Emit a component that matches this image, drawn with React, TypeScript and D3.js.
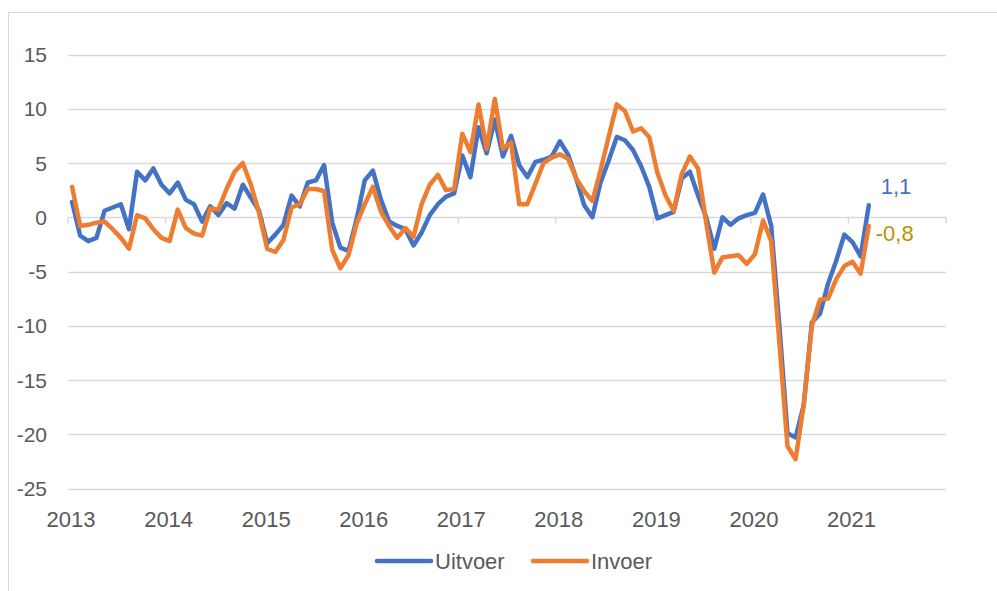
import React, { useEffect, useRef } from "react";
import * as d3 from "d3";

// monthly values, Jan 2013 .. Mar 2021
const uitvoer = [
  1.4, -1.7, -2.2, -1.9, 0.6, 0.9, 1.2, -1.1, 4.2, 3.4, 4.5, 3.0,
  2.2, 3.2, 1.6, 1.2, -0.4, 1.0, 0.2, 1.3, 0.8, 3.0, 1.8, 0.6,
  -2.4, -1.6, -0.7, 2.0, 1.0, 3.2, 3.4, 4.8, -0.5, -2.8, -3.1, -0.2,
  3.4, 4.3, 1.6, -0.4, -0.8, -1.1, -2.6, -1.4, 0.2, 1.2, 1.9, 2.2,
  5.7, 3.7, 8.3, 5.9, 9.0, 5.6, 7.5, 4.8, 3.7, 5.1, 5.3, 5.6,
  7.0, 5.8, 3.6, 1.1, 0.0, 3.2, 5.2, 7.4, 7.1, 6.2, 4.7, 2.8,
  -0.1, 0.2, 0.5, 3.6, 4.2, 2.0, 0.0, -2.9, 0.0, -0.7, -0.1, 0.2,
  0.4, 2.1, -0.8, -10.0, -19.9, -20.3, -17.3, -9.7, -8.9, -6.1, -4.0, -1.6,
  -2.3, -3.6, 1.1,
];

const invoer = [
  2.8, -0.8, -0.7, -0.5, -0.4, -1.1, -1.9, -2.9, 0.2, -0.1, -1.1, -1.9,
  -2.2, 0.7, -1.0, -1.5, -1.7, 0.8, 0.7, 2.6, 4.2, 5.0, 3.0, 0.4,
  -2.9, -3.2, -2.1, 0.9, 1.2, 2.6, 2.6, 2.4, -3.0, -4.7, -3.5, -0.6,
  1.2, 2.8, 0.5, -0.8, -1.9, -1.0, -1.8, 1.2, 3.0, 3.9, 2.5, 2.6,
  7.7, 6.0, 10.4, 6.3, 10.9, 6.3, 6.9, 1.2, 1.2, 3.1, 5.0, 5.5,
  5.8, 5.4, 3.6, 2.4, 1.5, 4.3, 7.4, 10.4, 9.8, 7.9, 8.2, 7.4,
  4.1, 2.0, 0.6, 4.0, 5.6, 4.5, -0.5, -5.1, -3.7, -3.6, -3.5, -4.3,
  -3.4, -0.3, -2.2, -11.5, -21.1, -22.3, -17.3, -10.0, -7.6, -7.5, -5.7, -4.5,
  -4.1, -5.2, -0.8,
];

const years = [2013, 2014, 2015, 2016, 2017, 2018, 2019, 2020, 2021];
const yTicks = [15, 10, 5, 0, -5, -10, -15, -20, -25];
const seriesNames = ["Uitvoer", "Invoer"];
const lastLabels = ["1,1", "-0,8"];

const FONT = "'Liberation Sans', Arial, sans-serif";

const App = () => {
  const svgRef = useRef<SVGSVGElement>(null);

  useEffect(() => {
    const width = 997;
    const height = 591;
    const svg = d3.select(svgRef.current);
    svg.selectAll("*").remove();
    svg.attr("width", width).attr("height", height);

    // chart frame
    svg
      .append("rect")
      .attr("x", 8.5)
      .attr("y", 12.5)
      .attr("width", 1000)
      .attr("height", 600)
      .attr("fill", "white")
      .attr("stroke", "#D9D9D9");

    const x = d3.scaleLinear().domain([-0.5, 107.5]).range([68, 946]);
    const y = d3.scaleLinear().domain([-25, 15]).range([488.5, 54.5]);

    // gridlines
    svg
      .append("g")
      .selectAll("line")
      .data(yTicks)
      .enter()
      .append("line")
      .attr("x1", 68)
      .attr("x2", 946)
      .attr("y1", (d) => Math.round(y(d)) + 0.5)
      .attr("y2", (d) => Math.round(y(d)) + 0.5)
      .attr("stroke", "#D9D9D9")
      .attr("stroke-width", 1.5);

    // y labels
    svg
      .append("g")
      .selectAll("text")
      .data(yTicks)
      .enter()
      .append("text")
      .attr("x", 47)
      .attr("y", (d) => y(d) + 7.5)
      .attr("text-anchor", "end")
      .style("font-family", FONT)
      .style("font-size", "21px")
      .attr("fill", "#595959")
      .text((d) => d);

    // year ticks on the zero line
    const y0 = Math.round(y(0)) + 0.5;
    svg
      .append("g")
      .selectAll("line")
      .data(d3.range(years.length + 1))
      .enter()
      .append("line")
      .attr("x1", (k) => x(k * 12 - 0.5))
      .attr("x2", (k) => x(k * 12 - 0.5))
      .attr("y1", y0)
      .attr("y2", y0 + 6)
      .attr("stroke", "#D9D9D9")
      .attr("stroke-width", 1.5);

    // year labels
    svg
      .append("g")
      .selectAll("text")
      .data(years)
      .enter()
      .append("text")
      .attr("x", (d, i) => x(i * 12) - 1)
      .attr("y", 527)
      .attr("text-anchor", "middle")
      .style("font-family", FONT)
      .style("font-size", "22px")
      .attr("fill", "#595959")
      .text((d) => d);

    const line = d3
      .line<number>()
      .x((d, i) => x(i))
      .y((d) => y(d));

    const colors = ["#4472C4", "#ED7D31"];
    [uitvoer, invoer].forEach((s, k) => {
      svg
        .append("path")
        .datum(s)
        .attr("d", line)
        .attr("fill", "none")
        .attr("stroke", colors[k])
        .attr("stroke-width", 4.5)
        .attr("stroke-linejoin", "round")
        .attr("stroke-linecap", "round");
    });

    // end labels
    const labelColors = ["#4472C4", "#BF9000"];
    const labelPos = [
      { dx: 12, dy: -11 },
      { dx: 7, dy: 15 },
    ];
    [uitvoer, invoer].forEach((s, k) => {
      const n = s.length - 1;
      svg
        .append("text")
        .attr("x", x(n) + labelPos[k].dx)
        .attr("y", y(s[n]) + labelPos[k].dy)
        .style("font-family", FONT)
        .style("font-size", "22px")
        .attr("fill", labelColors[k])
        .text(lastLabels[k]);
    });

    // legend
    const legendX = [377, 533];
    seriesNames.forEach((name, k) => {
      svg
        .append("line")
        .attr("x1", legendX[k])
        .attr("x2", legendX[k] + 54)
        .attr("y1", 561)
        .attr("y2", 561)
        .attr("stroke", colors[k])
        .attr("stroke-width", 4.5)
        .attr("stroke-linecap", "round");
      svg
        .append("text")
        .attr("x", legendX[k] + 58)
        .attr("y", 569)
        .style("font-family", FONT)
        .style("font-size", "22px")
        .attr("fill", "#595959")
        .text(name);
    });
  }, []);

  return <svg ref={svgRef} style={{ position: "absolute", left: 0, top: 0 }}></svg>;
};

export default App;
